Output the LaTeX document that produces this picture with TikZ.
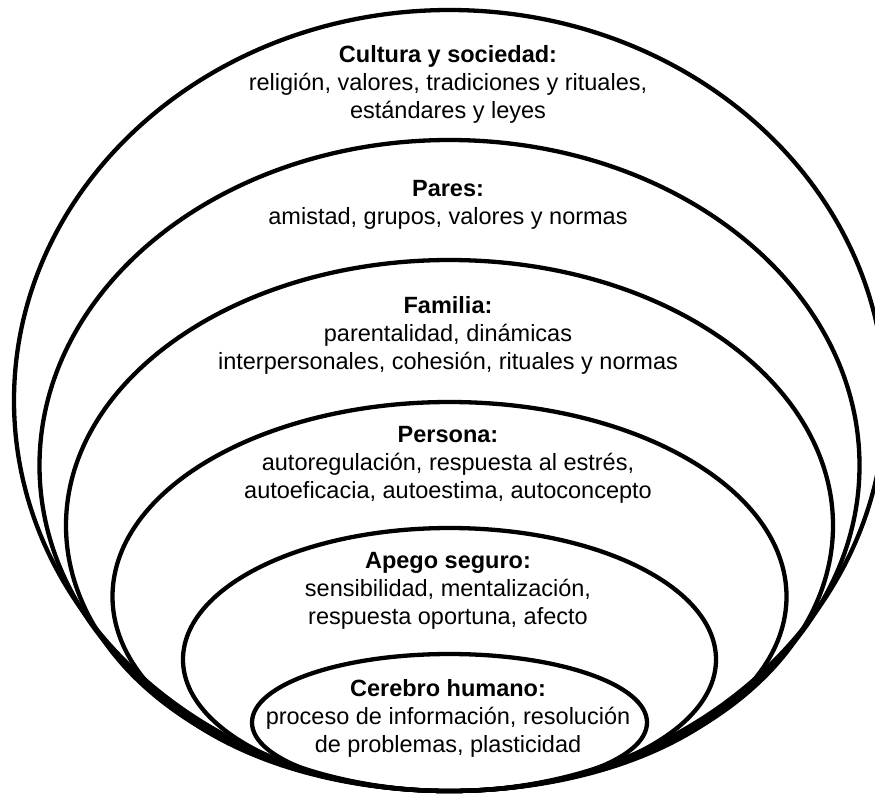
\documentclass[tikz,border=0pt]{standalone}
\usepackage{fontspec}
\setmainfont{Liberation Sans}
\begin{document}
\begin{tikzpicture}[x=1pt,y=-1pt,
  ring/.style={draw=black,line width=4.3pt},
  label/.style={anchor=base,align=center,inner sep=0pt,
    font=\fontsize{23.5}{28}\selectfont}]
\useasboundingbox (0,0) rectangle (875,796);
\clip (0,0) rectangle (875,796);
\fill[white] (0,0) rectangle (875,796);
\def\cx{449.5}
\draw[ring] (\cx,400.5) ellipse [x radius=435.5, y radius=390.5];
\draw[ring] (\cx,465.5) ellipse [x radius=410, y radius=325.5];
\draw[ring] (\cx,525.5) ellipse [x radius=383.5, y radius=265.5];
\draw[ring] (\cx,596.5) ellipse [x radius=337, y radius=194.5];
\draw[ring] (\cx,659.5) ellipse [x radius=266.5, y radius=131.5];
\draw[ring] (\cx,722.5) ellipse [x radius=197.5, y radius=68.5];
\node[label] (cultura) at (448,118) {\textbf{Cultura y sociedad:}\\religión, valores, tradiciones y rituales,\\estándares y leyes};
\node[label] (pares) at (448,224) {\textbf{Pares:}\\amistad, grupos, valores y normas};
\node[label] (familia) at (448,369) {\textbf{Familia:}\\parentalidad, dinámicas\\interpersonales, cohesión, rituales y normas};
\node[label] (persona) at (448,498) {\textbf{Persona:}\\autoregulación, respuesta al estrés,\\autoeficacia, autoestima, autoconcepto};
\node[label] (apego) at (448,624) {\textbf{Apego seguro:}\\sensibilidad, mentalización,\\respuesta oportuna, afecto};
\node[label] (cerebro) at (448,752) {\textbf{Cerebro humano:}\\proceso de información, resolución\\de problemas, plasticidad};
\end{tikzpicture}
\end{document}
